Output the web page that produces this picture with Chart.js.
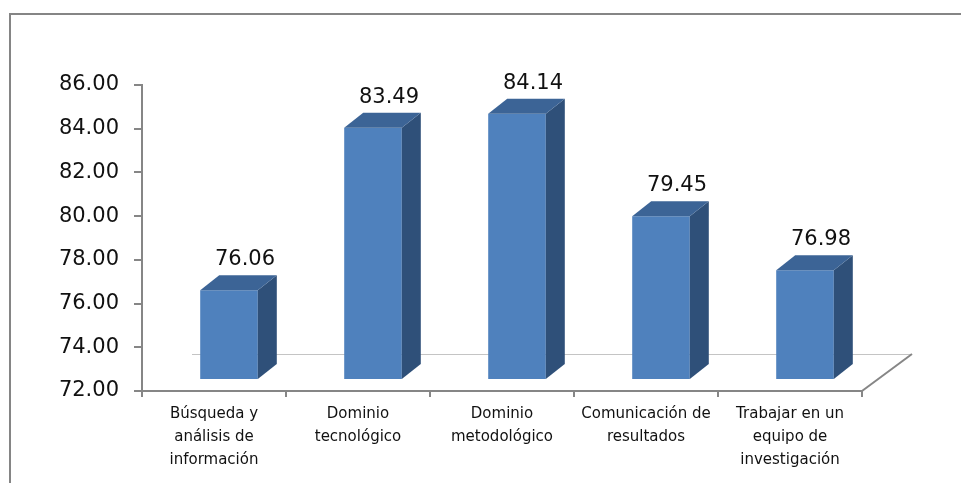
<!DOCTYPE html>
<html>
<head>
<meta charset="utf-8">
<title>Competencias</title>
<script src="https://cdn.jsdelivr.net/npm/chart.js@4.4.1/dist/chart.umd.min.js"></script>
<style>
    html, body { margin: 0; padding: 0; background: #ffffff; }
    canvas { display: block; }
</style>
</head>
<body>
<canvas id="barChart" width="961" height="483"></canvas>
<script>
// Chart data
const categories = [
    ['Búsqueda y', 'análisis de', 'información'],
    ['Dominio', 'tecnológico'],
    ['Dominio', 'metodológico'],
    ['Comunicación de', 'resultados'],
    ['Trabajar en un', 'equipo de', 'investigación']
];
const scores = [76.06, 83.49, 84.14, 79.45, 76.98];
const yTicks = [72, 74, 76, 78, 80, 82, 84, 86];

// 3D look (pixels)
const SHIFT_X = 15;
const SHIFT_Y = -12;
const DEPTH_X = 19;
const DEPTH_Y = -15;
const FLOOR_X = 50;
const FLOOR_Y = -37;

const AXIS_COLOR = '#868686';
const FRONT_COLOR = '#4F81BD';
const SIDE_COLOR = '#2F5079';
const TOP_COLOR = '#3C6496';

/**
 * Frame, floor and 3D faces of the bars
 */
const bars3d = {
    id: 'bars3d',
    beforeDraw(chart) {
        const ctx = chart.ctx;
        ctx.save();
        ctx.strokeStyle = '#858585';
        ctx.lineWidth = 2;
        ctx.beginPath();
        ctx.moveTo(10, chart.height);
        ctx.lineTo(10, 14);
        ctx.lineTo(chart.width, 14);
        ctx.stroke();
        ctx.restore();
    },
    beforeDatasetsDraw(chart) {
        const ctx = chart.ctx;
        const area = chart.chartArea;
        // floor back edge and right side
        ctx.save();
        ctx.lineWidth = 1;
        ctx.strokeStyle = '#C4C4C4';
        ctx.beginPath();
        ctx.moveTo(area.left + FLOOR_X, area.bottom + FLOOR_Y + 0.5);
        ctx.lineTo(area.right + FLOOR_X, area.bottom + FLOOR_Y + 0.5);
        ctx.stroke();
        ctx.lineWidth = 2;
        ctx.strokeStyle = AXIS_COLOR;
        ctx.beginPath();
        ctx.moveTo(area.right, area.bottom);
        ctx.lineTo(area.right + FLOOR_X, area.bottom + FLOOR_Y);
        ctx.stroke();
        ctx.restore();

        ctx.save();
        ctx.translate(SHIFT_X, SHIFT_Y);
    },
    afterDatasetsDraw(chart) {
        const ctx = chart.ctx;
        const area = chart.chartArea;
        const meta = chart.getDatasetMeta(0);
        meta.data.forEach((bar, i) => {
            const left = bar.x - bar.width / 2;
            const right = bar.x + bar.width / 2;
            const top = bar.y;
            // bars start at 0, the visible part ends at the axis
            const base = Math.min(bar.base, area.bottom);

            // side face
            ctx.fillStyle = SIDE_COLOR;
            ctx.beginPath();
            ctx.moveTo(right, top);
            ctx.lineTo(right + DEPTH_X, top + DEPTH_Y);
            ctx.lineTo(right + DEPTH_X, base + DEPTH_Y);
            ctx.lineTo(right, base);
            ctx.closePath();
            ctx.fill();

            // top face
            ctx.fillStyle = TOP_COLOR;
            ctx.beginPath();
            ctx.moveTo(left, top);
            ctx.lineTo(left + DEPTH_X, top + DEPTH_Y);
            ctx.lineTo(right + DEPTH_X, top + DEPTH_Y);
            ctx.lineTo(right, top);
            ctx.closePath();
            ctx.fill();

            // value label
            ctx.fillStyle = '#111111';
            ctx.font = '21px "DejaVu Sans"';
            ctx.textAlign = 'center';
            ctx.textBaseline = 'bottom';
            ctx.fillText(scores[i].toFixed(2), bar.x + 16, top + DEPTH_Y - 5);
        });
        ctx.restore();
    }
};

new Chart(document.getElementById('barChart'), {
    type: 'bar',
    data: {
        labels: categories,
        datasets: [{
            data: scores,
            backgroundColor: FRONT_COLOR,
            borderWidth: 0,
            barPercentage: 0.4,
            categoryPercentage: 1.0
        }]
    },
    options: {
        responsive: false,
        animation: false,
        events: [],
        layout: {
            padding: { top: 85, right: 99, left: 0, bottom: 0 }
        },
        plugins: {
            legend: { display: false },
            tooltip: { enabled: false }
        },
        scales: {
            x: {
                afterFit(scale) { scale.height = 92; },
                grid: {
                    offset: true,
                    drawOnChartArea: false,
                    drawTicks: true,
                    tickLength: 6,
                    color: AXIS_COLOR,
                    lineWidth: 2
                },
                border: { display: true, color: AXIS_COLOR, width: 2 },
                ticks: {
                    color: '#111111',
                    font: { family: 'DejaVu Sans', size: 15, lineHeight: 1.55 },
                    padding: 5,
                    maxRotation: 0,
                    autoSkip: false
                }
            },
            y: {
                min: yTicks[0],
                max: yTicks[yTicks.length - 1],
                afterFit(scale) { scale.width = 142; },
                afterBuildTicks(scale) {
                    scale.ticks = yTicks.map(v => ({ value: v }));
                },
                grid: {
                    drawOnChartArea: false,
                    drawTicks: true,
                    tickLength: 8,
                    color: AXIS_COLOR,
                    lineWidth: 2
                },
                border: { display: true, color: AXIS_COLOR, width: 2 },
                ticks: {
                    color: '#111111',
                    font: { family: 'DejaVu Sans', size: 21 },
                    padding: 15,
                    callback: value => Number(value).toFixed(2)
                }
            }
        }
    },
    plugins: [bars3d]
});
</script>
</body>
</html>
